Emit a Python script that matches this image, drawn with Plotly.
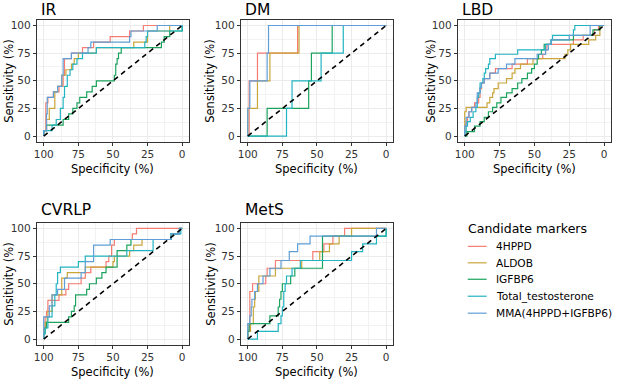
import plotly.graph_objects as go

# ---------------- data (ROC step curves, vh-step vertices: (specificity, sensitivity)) -------------
MARKERS = ["4HPPD", "ALDOB", "IGFBP6", "Total_testosterone", "MMA(4HPPD+IGFBP6)"]
COLORS = ["#F47C72", "#C9A53A", "#1BA35E", "#22B4C2", "#5F9ED6"]
PANELS = ["IR", "DM", "LBD", "CVRLP", "MetS"]
TICKS = [0, 25, 50, 75, 100]

# IR
IR_SPEC_4HPPD = [100, 98.5, 97, 93, 89, 86, 85, 80, 72, 64, 52, 38, 28, 0]
IR_SENS_4HPPD = [0, 5, 30, 35, 40, 45, 55, 70, 75, 80, 85, 90, 95, 100]
IR_SPEC_ALDOB = [100, 98, 96, 92, 90, 87, 84, 80, 78, 75, 62, 35, 25, 9, 0]
IR_SENS_ALDOB = [0, 5, 15, 25, 40, 45, 55, 60, 65, 70, 75, 80, 85, 95, 100]
IR_SPEC_IGFBP6 = [100, 98, 86, 82, 79, 76, 74, 69, 65, 62, 49, 48, 47, 46, 44, 15, 13, 9, 0, 0]
IR_SENS_IGFBP6 = [0, 5, 10, 15, 20, 25, 30, 35, 40, 45, 50, 55, 65, 70, 75, 80, 85, 90, 95, 100]
IR_SPEC_TT = [100, 94, 91, 88, 86, 85, 83, 81, 79, 76, 72, 62, 27, 26, 25, 0, 0]
IR_SENS_TT = [0, 5, 10, 15, 25, 35, 45, 55, 60, 65, 70, 75, 80, 85, 90, 95, 100]
IR_SPEC_MMA = [100, 98, 97.5, 93, 90, 87, 86, 80, 68, 66, 38, 37, 18, 0]
IR_SENS_MMA = [0, 5, 20, 35, 40, 45, 55, 70, 75, 80, 85, 90, 95, 100]

# DM
DM_SPEC_4HPPD = [100, 99, 93, 64, 0]
DM_SENS_4HPPD = [0, 0, 50, 75, 100]
DM_SPEC_ALDOB = [100, 93, 84, 63, 0]
DM_SENS_ALDOB = [0, 25, 50, 75, 100]
DM_SPEC_IGFBP6 = [100, 86, 56, 54, 39, 0]
DM_SENS_IGFBP6 = [0, 0, 25, 50, 75, 100]
DM_SPEC_TT = [100, 72, 68, 47, 31, 0]
DM_SENS_TT = [0, 0, 25, 50, 75, 100]
DM_SPEC_MMA = [100, 98.5, 86, 85, 0]
DM_SENS_MMA = [0, 25, 50, 75, 100]

# LBD
LBD_SPEC_4HPPD = [100, 99, 98, 97, 95, 93, 90, 89, 88, 86, 82, 78, 66, 55, 44, 42, 41, 22, 15, 7, 4, 0]
LBD_SENS_4HPPD = [0, 9, 13, 17, 22, 26, 30, 35, 43, 48, 52, 57, 61, 65, 70, 74, 78, 83, 87, 91, 96, 100]
LBD_SPEC_ALDOB = [100, 99, 84, 82, 80, 79, 76, 70, 66, 64, 60, 51, 28, 26, 24, 11, 6, 3, 0]
LBD_SENS_ALDOB = [0, 22, 26, 30, 35, 39, 43, 48, 52, 57, 61, 65, 70, 74, 78, 83, 87, 91, 100]
LBD_SPEC_IGFBP6 = [100, 98.5, 93, 89, 86, 83, 80, 77, 74, 70, 66, 62, 59, 55, 52, 50, 48, 47, 45, 43, 38, 22, 8, 3, 0]
LBD_SENS_IGFBP6 = [0, 0, 4, 9, 13, 17, 22, 26, 30, 35, 39, 43, 48, 52, 57, 61, 65, 70, 74, 78, 83, 87, 91, 96, 100]
LBD_SPEC_TT = [100, 99, 98, 96, 94, 92, 91, 90, 89, 87, 86, 85, 83, 82, 78, 62, 42, 38, 37, 22, 21, 0]
LBD_SENS_TT = [0, 4, 9, 13, 17, 22, 26, 35, 39, 48, 52, 57, 61, 65, 70, 74, 78, 83, 87, 91, 96, 100]
LBD_SPEC_MMA = [100, 99, 97, 95, 92, 91, 89, 88, 86, 82, 76, 70, 64, 48, 42, 40, 38, 25, 10, 0]
LBD_SENS_MMA = [0, 9, 17, 22, 26, 30, 39, 44, 48, 52, 57, 61, 65, 70, 74, 78, 83, 87, 91, 100]

# CVRLP
CV_SPEC_4HPPD = [100, 99, 98, 97, 89, 84, 82, 73, 70, 66, 55, 53, 51, 49, 36, 33, 0]
CV_SENS_4HPPD = [0, 10, 20, 25, 35, 40, 45, 50, 55, 60, 65, 70, 75, 85, 90, 95, 100]
CV_SPEC_ALDOB = [100, 99, 97.5, 97, 94, 87, 83, 70, 50, 49, 38, 35, 29, 8, 2, 0]
CV_SENS_ALDOB = [0, 10, 15, 20, 25, 40, 55, 60, 65, 70, 75, 80, 85, 90, 95, 100]
CV_SPEC_IGFBP6 = [100, 99, 98, 82, 80, 78, 77, 69, 67, 62, 58, 55, 47, 40, 37, 8, 2, 0]
CV_SENS_IGFBP6 = [0, 5, 10, 15, 20, 25, 30, 40, 45, 50, 55, 60, 65, 80, 85, 90, 95, 100]
CV_SPEC_TT = [100, 99, 97, 94, 92, 91, 90, 88, 75, 70, 40, 21, 8, 1, 0]
CV_SENS_TT = [0, 5, 10, 20, 30, 40, 50, 60, 65, 70, 75, 80, 90, 95, 100]
CV_SPEC_MMA = [100, 96, 94, 90, 85, 73, 70, 64, 52, 8, 2, 0]
CV_SENS_MMA = [0, 20, 30, 40, 45, 55, 60, 70, 85, 90, 95, 100]

# MetS
MS_SPEC_4HPPD = [100, 99, 98.5, 96.5, 87, 86, 80, 53, 45, 38.5, 30, 0]
MS_SENS_4HPPD = [0, 7, 14, 43, 50, 57, 64, 71, 79, 86, 93, 100]
MS_SPEC_ALDOB = [100, 98, 96, 95, 94.5, 92, 80, 61, 48, 41, 34, 25, 0]
MS_SENS_ALDOB = [0, 7, 14, 29, 36, 43, 57, 64, 71, 79, 86, 93, 100]
MS_SPEC_IGFBP6 = [100, 99, 84, 78, 77, 76, 75, 69, 66, 46, 0, 0]
MS_SENS_IGFBP6 = [0, 7, 14, 21, 29, 36, 43, 50, 57, 64, 93, 100]
MS_SPEC_TT = [100, 93, 78, 76, 75, 74, 73, 72, 68, 62, 25, 17, 7, 0, 0]
MS_SENS_TT = [0, 0, 7, 14, 21, 29, 43, 50, 57, 64, 71, 79, 86, 93, 100]
MS_SPEC_MMA = [100, 98.5, 97.5, 97, 95, 93, 89, 84, 76, 70, 64, 55, 7, 0]
MS_SENS_MMA = [0, 14, 21, 29, 36, 43, 50, 57, 64, 71, 79, 86, 93, 100]

CURVES = {
    "IR": [(IR_SPEC_4HPPD, IR_SENS_4HPPD), (IR_SPEC_ALDOB, IR_SENS_ALDOB), (IR_SPEC_IGFBP6, IR_SENS_IGFBP6),
           (IR_SPEC_TT, IR_SENS_TT), (IR_SPEC_MMA, IR_SENS_MMA)],
    "DM": [(DM_SPEC_4HPPD, DM_SENS_4HPPD), (DM_SPEC_ALDOB, DM_SENS_ALDOB), (DM_SPEC_IGFBP6, DM_SENS_IGFBP6),
           (DM_SPEC_TT, DM_SENS_TT), (DM_SPEC_MMA, DM_SENS_MMA)],
    "LBD": [(LBD_SPEC_4HPPD, LBD_SENS_4HPPD), (LBD_SPEC_ALDOB, LBD_SENS_ALDOB), (LBD_SPEC_IGFBP6, LBD_SENS_IGFBP6),
            (LBD_SPEC_TT, LBD_SENS_TT), (LBD_SPEC_MMA, LBD_SENS_MMA)],
    "CVRLP": [(CV_SPEC_4HPPD, CV_SENS_4HPPD), (CV_SPEC_ALDOB, CV_SENS_ALDOB), (CV_SPEC_IGFBP6, CV_SENS_IGFBP6),
              (CV_SPEC_TT, CV_SENS_TT), (CV_SPEC_MMA, CV_SENS_MMA)],
    "MetS": [(MS_SPEC_4HPPD, MS_SENS_4HPPD), (MS_SPEC_ALDOB, MS_SENS_ALDOB), (MS_SPEC_IGFBP6, MS_SENS_IGFBP6),
             (MS_SPEC_TT, MS_SENS_TT), (MS_SPEC_MMA, MS_SENS_MMA)],
}

# ---------------- layout (pixel boxes of each panel: left, right, top, bottom) ----------------
W, H = 617, 380
BOXES = {
    "IR": (34, 187, 19, 141),
    "DM": (239, 392, 19, 141),
    "LBD": (457, 611, 19, 141),
    "CVRLP": (34, 187, 222.5, 344.5),
    "MetS": (239, 392, 222.5, 344.5),
}
YTITLE_X = {"IR": 6, "DM": 208, "LBD": 430, "CVRLP": 6, "MetS": 209}

FONT = "DejaVu Sans"
fig = go.Figure()
annotations = []
shapes = []

for i, panel in enumerate(PANELS):
    l, r, t, b = BOXES[panel]
    sfx = "" if i == 0 else str(i + 1)
    xa, ya = "x" + sfx, "y" + sfx
    for k, (spec, sens) in enumerate(CURVES[panel]):
        fig.add_trace(go.Scatter(
            x=spec, y=sens, mode="lines", line=dict(color=COLORS[k], width=1.2, shape="vh"),
            name=MARKERS[k], showlegend=False, xaxis=xa, yaxis=ya, hoverinfo="skip"))
    fig.add_trace(go.Scatter(
        x=[100, 0], y=[0, 100], mode="lines", line=dict(color="black", width=1.6, dash="5px,4px"),
        showlegend=False, xaxis=xa, yaxis=ya, hoverinfo="skip"))
    axcommon = dict(
        tickvals=TICKS, ticktext=[str(v) for v in TICKS], showline=True, mirror=True,
        linecolor="#333333", linewidth=1, ticks="outside", ticklen=3, tickwidth=1, tickcolor="#333333",
        showgrid=True, gridcolor="#EBEBEB", gridwidth=1, zeroline=False,
        tickfont=dict(family=FONT, size=10.5, color="#333333"),
        minor=dict(dtick=12.5, showgrid=True, gridcolor="#F2F2F2", gridwidth=0.7, ticks=""),
    )
    fig.layout["xaxis" + sfx] = dict(axcommon, domain=[l / W, r / W], range=[105, -5], anchor=ya)
    fig.layout["yaxis" + sfx] = dict(axcommon, domain=[1 - b / H, 1 - t / H], range=[-5, 105], anchor=xa)
    # panel title
    ty = 9 if t < 100 else 210
    annotations.append(dict(text=panel, x=(l + 2) / W, y=1 - ty / H, xref="paper", yref="paper",
                            xanchor="left", yanchor="middle", showarrow=False,
                            font=dict(family=FONT, size=15.5, color="black")))
    # axis titles
    xty = 168 if t < 100 else 372
    annotations.append(dict(text="Specificity (%)", x=(l + r) / 2 / W, y=1 - xty / H, xref="paper",
                            yref="paper", xanchor="center", yanchor="middle", showarrow=False,
                            font=dict(family=FONT, size=11.5, color="black")))
    annotations.append(dict(text="Sensitivity (%)", x=YTITLE_X[panel] / W, y=1 - (t + b) / 2 / H,
                            xref="paper", yref="paper", xanchor="center", yanchor="middle",
                            textangle=-90, showarrow=False,
                            font=dict(family=FONT, size=11.5, color="black")))

# ---------------- legend (drawn manually to match spacing) ----------------
annotations.append(dict(text="Candidate markers", x=465 / W, y=1 - 228 / H, xref="paper", yref="paper",
                        xanchor="left", yanchor="middle", showarrow=False,
                        font=dict(family=FONT, size=12.5, color="black")))
LEG_Y = [246, 262.5, 279, 296, 313]
for k, name in enumerate(MARKERS):
    yy = 1 - LEG_Y[k] / H
    shapes.append(dict(type="line", xref="paper", yref="paper", x0=467 / W, x1=486 / W, y0=yy, y1=yy,
                       line=dict(color=COLORS[k], width=1.2)))
    annotations.append(dict(text=name, x=493 / W, y=yy, xref="paper", yref="paper", xanchor="left",
                            yanchor="middle", showarrow=False,
                            font=dict(family=FONT, size=10.6, color="black")))

fig.update_layout(
    width=W, height=H, margin=dict(l=0, r=0, t=0, b=0),
    paper_bgcolor="white", plot_bgcolor="white",
    annotations=annotations, shapes=shapes, showlegend=False,
)
fig.write_html("out.html", config={"displayModeBar": False},
               post_script="document.body.style.margin='0px';document.body.style.overflow='hidden';")
